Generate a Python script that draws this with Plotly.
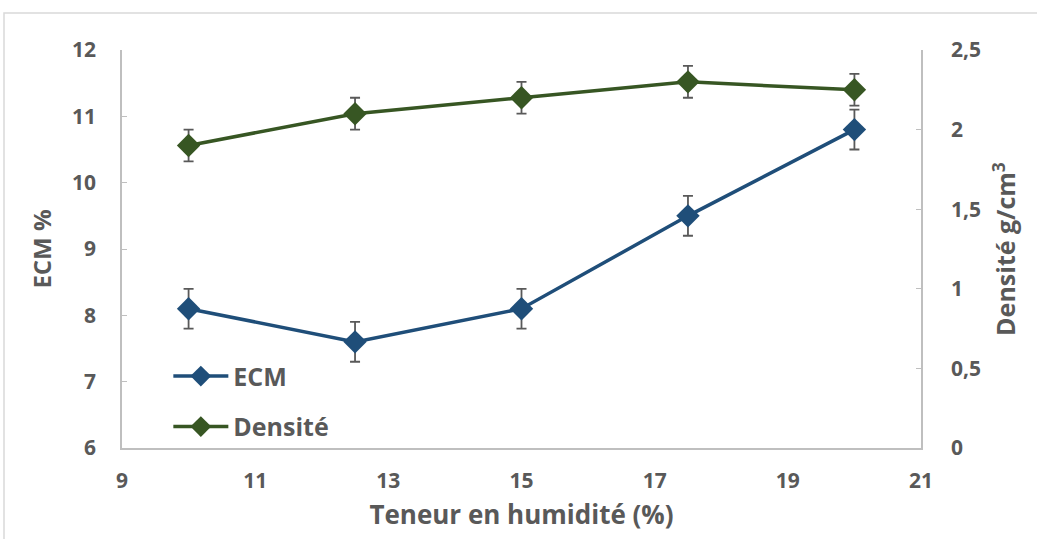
import plotly.graph_objects as go

humidite = [10, 12.5, 15, 17.5, 20]
ecm = [8.1, 7.6, 8.1, 9.5, 10.8]
ecm_err = [0.3, 0.3, 0.3, 0.3, 0.3]
densite = [1.9, 2.1, 2.2, 2.3, 2.25]
densite_err = [0.1, 0.1, 0.1, 0.1, 0.1]

x_ticks = [9, 11, 13, 15, 17, 19, 21]
y1_ticks = [6, 7, 8, 9, 10, 11, 12]
y2_ticks = [0, 0.5, 1, 1.5, 2, 2.5]
y2_labels = ["0", "0,5", "1", "1,5", "2", "2,5"]

FONT = "Open Sans"
TXT = "#595959"
AX = "#BFBFBF"

fig = go.Figure()
fig.add_trace(go.Scatter(
    x=humidite, y=ecm, name="<b>ECM</b>", mode="lines+markers", legendgroup="a",
    line=dict(color="#1F4E79", width=3.5),
    marker=dict(symbol="diamond", size=18, color="#1F4E79"),
    error_y=dict(type="data", array=ecm_err, color="#595959", thickness=1.8, width=5),
    yaxis="y",
))
fig.add_trace(go.Scatter(
    x=humidite, y=densite, name="<b>Densité</b>", mode="lines+markers", legendgroup="b",
    line=dict(color="#375623", width=3.5),
    marker=dict(symbol="diamond", size=18, color="#375623"),
    error_y=dict(type="data", array=densite_err, color="#595959", thickness=1.8, width=5),
    yaxis="y2",
))

fig.update_layout(
    width=1037, height=539,
    margin=dict(l=122, r=116, t=50, b=91),
    paper_bgcolor="white", plot_bgcolor="white",
    separators=", ",
    font=dict(family=FONT, color=TXT, size=18),
    showlegend=True,
    legend=dict(x=0.058, y=0.238, xanchor="left", yanchor="top",
                font=dict(family=FONT, size=25, color=TXT, weight="bold"),
                bgcolor="rgba(0,0,0,0)", itemwidth=55, tracegroupgap=15),
    xaxis=dict(range=[9, 21], tickvals=x_ticks, showgrid=False, zeroline=False,
               showline=True, linecolor=AX, linewidth=1.5, ticks="",
               tickfont=dict(family=FONT, size=21, color=TXT, weight="bold"),
               ticklabelstandoff=13,
               title=dict(text="Teneur en humidité (%)", standoff=13,
                          font=dict(family=FONT, size=26, color=TXT, weight="bold"))),
    yaxis=dict(range=[6, 12], tickvals=y1_ticks, showgrid=False, zeroline=False,
               showline=True, linecolor=AX, linewidth=1.5, ticks="inside",
               ticklen=5, tickcolor=AX, ticklabelstandoff=20,
               tickfont=dict(family=FONT, size=21, color=TXT, weight="bold"),
               title=dict(text="ECM %", standoff=14,
                          font=dict(family=FONT, size=24, color=TXT, weight="bold"))),
    yaxis2=dict(range=[0, 2.5], tickvals=y2_ticks, ticktext=y2_labels,
                overlaying="y", side="right", showgrid=False, zeroline=False,
                showline=True, linecolor=AX, linewidth=1.5, ticks="inside",
                ticklen=5, tickcolor=AX, ticklabelstandoff=24,
                tickfont=dict(family=FONT, size=21, color=TXT, weight="bold"),
                title=dict(text="Densité g/cm<sup>3</sup>", standoff=18,
                           font=dict(family=FONT, size=25, color=TXT, weight="bold"))),
    shapes=[dict(type="rect", xref="paper", yref="paper",
                 x0=(4 - 122) / 799, x1=1.2, y0=-0.3, y1=(448 - 13) / 398,
                 line=dict(color="#D9D9D9", width=1.5), fillcolor="rgba(0,0,0,0)",
                 layer="below")],
)

fig.write_html("out.html")
